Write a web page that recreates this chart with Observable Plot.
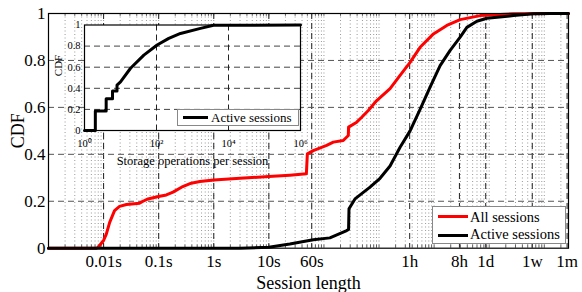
<!DOCTYPE html>
<html><head><meta charset="utf-8">
<script src="https://cdn.jsdelivr.net/npm/d3@7"></script>
<script src="https://cdn.jsdelivr.net/npm/@observablehq/plot@0.6"></script>
<style>
body{margin:0;background:#fff;}
#wrap{position:relative;width:582px;height:292px;font-family:"Liberation Serif","Times New Roman",serif;overflow:hidden;}
#wrap svg{position:absolute;background:transparent;}
.leg{position:absolute;background:#fff;border:1px solid #888;box-sizing:border-box;}
.sw{position:absolute;height:3px;}
.lt{position:absolute;white-space:nowrap;line-height:1;color:#000;}
</style></head><body><div id="wrap"></div>
<script>
// Main chart: session length (seconds) vs CDF
const redT = [0.001, 0.0074, 0.0079, 0.01, 0.0112, 0.0129, 0.0158, 0.0195, 0.026, 0.045, 0.052, 0.064, 0.099, 0.138, 0.182, 0.26, 0.39, 0.56, 1, 3, 10, 24, 48, 50, 64, 112, 148, 224, 277, 280, 393, 485, 639, 908, 1585, 2409, 3661, 5562, 9710, 17000, 29700, 68600, 273000, 1.3e6, 2.75e6];
const redP = [0, 0, 0.003, 0.033, 0.06, 0.11, 0.16, 0.178, 0.186, 0.192, 0.2, 0.21, 0.22, 0.227, 0.239, 0.26, 0.277, 0.284, 0.291, 0.298, 0.305, 0.311, 0.317, 0.402, 0.416, 0.438, 0.452, 0.459, 0.48, 0.516, 0.537, 0.558, 0.587, 0.629, 0.68, 0.736, 0.792, 0.856, 0.913, 0.949, 0.974, 0.991, 0.999, 1, 1];
const blackT = [0.001, 3, 10, 24, 64, 128, 259, 280, 285, 366, 686, 1043, 1585, 2409, 3661, 5562, 8450, 12850, 19540, 29700, 39300, 59700, 90800, 277000, 631000, 1.3e6, 2.75e6];
const blackP = [0, 0, 0.004, 0.018, 0.036, 0.044, 0.075, 0.08, 0.168, 0.21, 0.26, 0.298, 0.35, 0.43, 0.5, 0.592, 0.686, 0.778, 0.843, 0.899, 0.941, 0.967, 0.98, 0.991, 0.999, 1, 1];
const xTickValues = [0.01, 0.1, 1, 10, 60, 3600, 28800, 86400, 604800, 2592000];
const xTickLabels = ["0.01s", "0.1s", "1s", "10s", "60s", "1h", "8h", "1d", "1w", "1m"];
const yTicks = [0, 0.2, 0.4, 0.6, 0.8, 1];
const yGrid = [0.2, 0.4, 0.6, 0.8];
const seriesNames = ["All sessions", "Active sessions"];
const seriesColors = ["#ff0000", "#000000"];

// Inset: storage operations per session vs CDF
const opsN = [1, 2, 2, 4, 4, 6, 6, 8, 8, 10, 19, 44.5, 104, 219, 464, 1663, 3840, 1e6];
const opsP = [0, 0, 0.184, 0.184, 0.30, 0.30, 0.374, 0.374, 0.43, 0.46, 0.59, 0.714, 0.81, 0.873, 0.92, 0.968, 0.997, 1];
const insetXTicks = [1, 100, 10000, 1000000];
const insetXLabels = ["10\u2070", "10\u00B2", "10\u2074", "10\u2076"];
const insetYTicks = [0, 0.2, 0.4, 0.6, 0.8, 1];
const insetName = "Active sessions";

const redData = redT.map((t, i) => ({t, p: redP[i]}));
const blackData = blackT.map((t, i) => ({t, p: blackP[i]}));
const opsData = opsN.map((n, i) => ({n, p: opsP[i]}));
const xDomain = [0.001, 2.75e6];
const minorTicks = [];
for (let e = -3; e <= 6; e++) for (let k = 1; k <= 9; k++) {
  const v = k * Math.pow(10, e);
  if (v >= xDomain[0] && v <= xDomain[1]) minorTicks.push(v);
}
const iLab = new Map(insetXTicks.map((v, i) => [v, insetXLabels[i]]));
const serif = "Liberation Serif, Times New Roman, serif";

const main = Plot.plot({
  width: 582, height: 292,
  marginLeft: 48, marginRight: 14, marginTop: 13, marginBottom: 44.3,
  style: {fontFamily: serif, fontSize: "17px", background: "transparent", color: "black"},
  x: {type: "log", domain: xDomain, axis: null},
  y: {domain: [0, 1]},
  marks: [
    Plot.ruleX(minorTicks, {stroke: "#999", strokeDasharray: "1,2.5", strokeWidth: 1}),
    Plot.ruleX(xTickValues, {stroke: "#222", strokeDasharray: "6,4", strokeWidth: 1}),
    Plot.ruleY(yGrid, {stroke: "#555", strokeDasharray: "6,4", strokeWidth: 1}),
    Plot.ruleX(minorTicks, {y1: 0, y2: 0.012, stroke: "#333", strokeWidth: 0.8}),
    Plot.ruleX(minorTicks, {y1: 0.988, y2: 1, stroke: "#333", strokeWidth: 0.8}),
    Plot.text(xTickValues, {x: d => d, text: (d, i) => xTickLabels[i], frameAnchor: "bottom", lineAnchor: "top", textAnchor: "middle", dy: 7, fontSize: 17, fill: "black"}),
    Plot.axisY(yTicks, {tickFormat: d => String(d), tickSize: 0, tickPadding: 3, fontSize: 17, label: null}),
    Plot.line(redData, {x: "t", y: "p", stroke: seriesColors[0], strokeWidth: 3}),
    Plot.line(blackData, {x: "t", y: "p", stroke: seriesColors[1], strokeWidth: 3}),
    Plot.frame({stroke: "black", strokeWidth: 1.2}),
    Plot.text(["Session length"], {frameAnchor: "bottom", lineAnchor: "middle", textAnchor: "middle", dy: 34.8, fontSize: 18, fill: "black"}),
    Plot.text(["CDF"], {frameAnchor: "left", lineAnchor: "middle", textAnchor: "middle", dx: -30.5, rotate: -90, fontSize: 18, fill: "black"})
  ]
});
main.style.left = "0px"; main.style.top = "0px";

const inset = Plot.plot({
  width: 270, height: 160,
  marginLeft: 44, marginRight: 10, marginTop: 10.5, marginBottom: 44,
  style: {fontFamily: serif, fontSize: "10.5px", background: "transparent", color: "black"},
  x: {type: "log", domain: [1, 1e6]},
  y: {domain: [0, 1]},
  marks: [
    Plot.frame({fill: "white", stroke: "none"}),
    Plot.ruleY([0.2, 0.4, 0.6, 0.8], {stroke: "#444", strokeDasharray: "6,4"}),
    Plot.ruleX([100, 10000], {stroke: "#222", strokeDasharray: "6,4"}),
    Plot.axisX(insetXTicks, {tickFormat: d => iLab.get(d), tickSize: 0, tickPadding: 9.5, fontSize: 10.5, label: null}),
    Plot.axisY(insetYTicks, {tickFormat: d => String(d), tickSize: 0, tickPadding: 4, fontSize: 10.5, label: null}),
    Plot.line(opsData, {x: "n", y: "p", stroke: "black", strokeWidth: 3}),
    Plot.frame({stroke: "black", strokeWidth: 1.2}),
    Plot.text(["Storage operations per session"], {frameAnchor: "bottom", lineAnchor: "middle", textAnchor: "middle", dy: 30, fontSize: 12.5, fill: "black"}),
    Plot.text(["CDF"], {frameAnchor: "left", lineAnchor: "middle", textAnchor: "middle", dx: -26, dy: -12.25, rotate: -90, fontSize: 11, fill: "black"})
  ]
});
inset.style.left = "40px"; inset.style.top = "14px";

const wrap = document.getElementById("wrap");
wrap.appendChild(main);
wrap.appendChild(inset);

function box(l, t, w, h) {
  const d = document.createElement("div");
  d.className = "leg";
  Object.assign(d.style, {left: l + "px", top: t + "px", width: w + "px", height: h + "px"});
  wrap.appendChild(d);
}
function swatch(l, y, w, color) {
  const d = document.createElement("div");
  d.className = "sw";
  Object.assign(d.style, {left: l + "px", top: (y - 1.5) + "px", width: w + "px", background: color});
  wrap.appendChild(d);
}
function label(l, top, size, txt) {
  const d = document.createElement("div");
  d.className = "lt";
  Object.assign(d.style, {left: l + "px", top: top + "px", fontSize: size + "px"});
  d.textContent = txt;
  wrap.appendChild(d);
}
// main legend
box(432, 206, 134, 38);
swatch(438, 216.7, 30, seriesColors[0]);
label(470, 221.7 - 0.8375 * 14.5, 14.5, seriesNames[0]);
swatch(438, 235, 30, seriesColors[1]);
label(470, 239.3 - 0.8375 * 14.5, 14.5, seriesNames[1]);
// inset legend
box(177, 108.5, 122, 17.5);
swatch(183, 117.3, 25, "#000");
label(211, 121.7 - 0.8375 * 13, 13, insetName);
</script></body></html>
